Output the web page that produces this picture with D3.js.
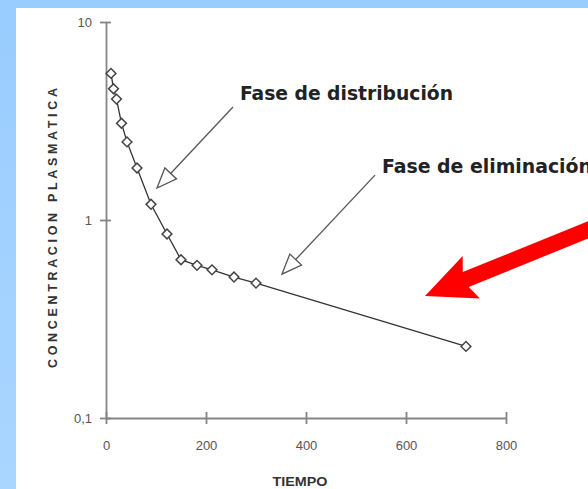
<!DOCTYPE html>
<html>
<head>
<meta charset="utf-8">
<script src="https://cdn.jsdelivr.net/npm/d3@7"></script>
<style>
  html, body { margin: 0; padding: 0; }
  svg { display: block; }
</style>
</head>
<body>
<svg id="chart" width="588" height="489"></svg>
<script>
// datos
const tiempo = [10, 15, 21, 31, 42, 62, 90, 122, 150, 182, 212, 256, 300, 720];
const concentracion = [5.5, 4.6, 4.08, 3.08, 2.48, 1.83, 1.2, 0.85, 0.63, 0.59, 0.56, 0.515, 0.48, 0.23];
const xTicks = [0, 200, 400, 600, 800];
const yTicks = [0.1, 1, 10];
const yTickLabels = ['0,1', '1', '10'];

const svg = d3.select('#chart');
const W = 588, H = 489;

// fondo azul con recuadro blanco
const grad = svg.append('defs').append('linearGradient')
  .attr('id', 'bg').attr('x1', 0).attr('y1', 0).attr('x2', 0).attr('y2', 1);
grad.append('stop').attr('offset', '0%').attr('stop-color', '#99ccff');
grad.append('stop').attr('offset', '100%').attr('stop-color', '#a9d6ff');
svg.append('rect').attr('width', W).attr('height', H).attr('fill', 'url(#bg)');
svg.append('rect').attr('x', 16).attr('y', 8).attr('width', W - 16).attr('height', H - 8).attr('fill', '#fff');

const x = d3.scaleLinear().domain([0, 800]).range([106, 506]);
const y = d3.scaleLog().domain([0.1, 10]).range([418, 22]);

// ejes
const xAxis = svg.append('g')
  .attr('transform', `translate(0,${y(0.1)})`)
  .call(d3.axisBottom(x).tickValues(xTicks).tickSize(6).tickSizeOuter(0).tickPadding(17));
xAxis.selectAll('.tick line').attr('y1', -6);

const yAxis = svg.append('g')
  .attr('transform', `translate(${x(0)},0)`)
  .call(d3.axisLeft(y).tickValues(yTicks)
    .tickFormat((d, i) => yTickLabels[i]).tickSize(5).tickSizeOuter(0).tickPadding(9));
yAxis.selectAll('.tick line').attr('x1', -6).attr('x2', 5);

[xAxis, yAxis].forEach(g => {
  g.select('.domain').attr('stroke', '#858585').attr('stroke-width', 1.8);
  g.selectAll('.tick line').attr('stroke', '#858585').attr('stroke-width', 1.8);
  g.selectAll('.tick text')
    .attr('fill', '#555')
    .style('font-family', '"Liberation Sans Narrow", "Liberation Sans", Arial, sans-serif')
    .style('font-size', '13px');
});

// titulos de ejes
svg.append('text')
  .attr('x', 300).attr('y', 486)
  .attr('text-anchor', 'middle')
  .attr('fill', '#333')
  .attr('textLength', 55).attr('lengthAdjust', 'spacingAndGlyphs')
  .style('font-family', '"Liberation Sans", Arial, sans-serif')
  .style('font-weight', 'bold').style('font-size', '13px')
  .text('TIEMPO');

svg.append('text')
  .attr('transform', 'translate(57,228) rotate(-90)')
  .attr('text-anchor', 'middle')
  .attr('fill', '#333')
  .attr('textLength', 280).attr('lengthAdjust', 'spacing')
  .style('font-family', '"Liberation Sans", Arial, sans-serif')
  .style('font-weight', 'bold').style('font-size', '12.5px')
  .text('CONCENTRACION PLASMATICA');

// curva
const data = tiempo.map((t, i) => ({ t, c: concentracion[i] }));
svg.append('path')
  .datum(data)
  .attr('fill', 'none')
  .attr('stroke', '#333')
  .attr('stroke-width', 1.3)
  .attr('d', d3.line().x(d => x(d.t)).y(d => y(d.c)));

svg.append('g').selectAll('path')
  .data(data)
  .enter().append('path')
  .attr('d', d3.symbol(d3.symbolSquare, 48))
  .attr('transform', d => `translate(${x(d.t)},${y(d.c)}) rotate(45)`)
  .attr('fill', '#fff')
  .attr('stroke', '#444')
  .attr('stroke-width', 1.5);

// anotaciones (punta en coordenadas de datos, cola desplazada en px)
const annotations = [
  { text: 'Fase de distribución', t: 102, c: 1.45, dx: 76, dy: -81, tx: 240, ty: 100, len: 213 },
  { text: 'Fase de eliminación', t: 352, c: 0.533, dx: 93, dy: -99, tx: 382, ty: 173, len: 210 }
];

function hollowHead(x0, y0, x1, y1, len, half) {
  // punta en (x1,y1), viene desde (x0,y0)
  const a = Math.atan2(y1 - y0, x1 - x0);
  const bx = x1 - len * Math.cos(a), by = y1 - len * Math.sin(a);
  const px = -Math.sin(a) * half, py = Math.cos(a) * half;
  return { bx, by, d: `M${x1},${y1}L${bx + px},${by + py}L${bx - px},${by - py}Z` };
}

annotations.forEach(a => {
  const x1 = x(a.t), y1 = y(a.c);
  const x0 = x1 + a.dx, y0 = y1 + a.dy;
  const head = hollowHead(x0, y0, x1, y1, 20, 8);
  svg.append('line')
    .attr('x1', x0).attr('y1', y0).attr('x2', head.bx).attr('y2', head.by)
    .attr('stroke', '#555').attr('stroke-width', 1.3);
  svg.append('path')
    .attr('d', head.d)
    .attr('fill', '#fff').attr('stroke', '#555').attr('stroke-width', 1.3);
  svg.append('text')
    .attr('x', a.tx).attr('y', a.ty)
    .attr('fill', '#222')
    .attr('textLength', a.len).attr('lengthAdjust', 'spacingAndGlyphs')
    .style('font-family', '"DejaVu Sans Condensed", "DejaVu Sans", sans-serif')
    .style('font-stretch', 'condensed')
    .style('font-weight', 'bold').style('font-size', '20px')
    .text(a.text);
});

// flecha roja
const red = { t: 638, c: 0.413, dx: 175, dy: -71 };
(function () {
  const x1 = x(red.t), y1 = y(red.c);
  const x0 = x1 + red.dx, y0 = y1 + red.dy;
  const a = Math.atan2(y1 - y0, x1 - x0);
  const ux = Math.cos(a), uy = Math.sin(a);
  const px = -uy, py = ux;
  const headLen = 50, headHalf = 23, shaftHalf = 8;
  const bx = x1 - headLen * ux, by = y1 - headLen * uy;
  const pts = [
    [x1, y1],
    [bx + px * headHalf, by + py * headHalf],
    [bx + px * shaftHalf + 6 * ux, by + py * shaftHalf + 6 * uy],
    [x0 + px * shaftHalf, y0 + py * shaftHalf],
    [x0 - px * shaftHalf, y0 - py * shaftHalf],
    [bx - px * shaftHalf + 6 * ux, by - py * shaftHalf + 6 * uy],
    [bx - px * headHalf, by - py * headHalf]
  ];
  svg.append('path')
    .attr('d', 'M' + pts.map(p => p.join(',')).join('L') + 'Z')
    .attr('fill', '#ff0000');
})();
</script>
</body>
</html>
